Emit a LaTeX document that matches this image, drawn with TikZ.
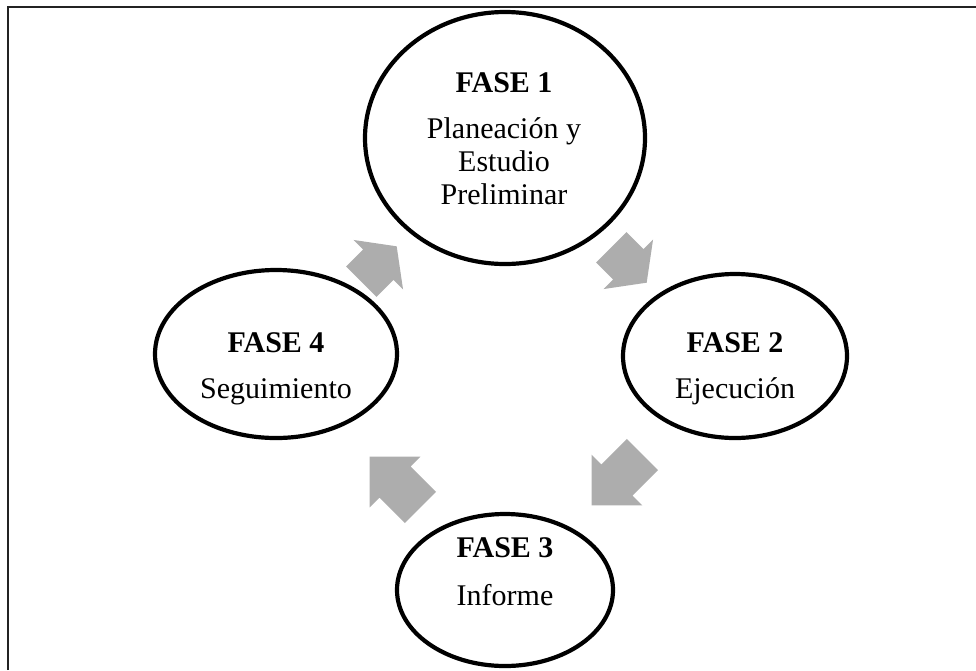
\documentclass[tikz,border=0pt]{standalone}
\usepackage{fontspec}
\setmainfont{Liberation Serif}
\usetikzlibrary{shapes.geometric}
\definecolor{arrowgray}{RGB}{173,173,173}
\definecolor{framegray}{RGB}{35,35,35}

% block arrow: centre x, centre y, angle, shaft length, head length, shaft half-width, head half-width
\newcommand\phasearrow[7]{%
  \fill[arrowgray, shift={(#1,#2)}, rotate=#3]
    ({-(#4+#5)/2}, -#6) -- ({-(#4+#5)/2+#4}, -#6) -- ({-(#4+#5)/2+#4}, -#7)
    -- ({(#4+#5)/2}, 0)
    -- ({-(#4+#5)/2+#4}, #7) -- ({-(#4+#5)/2+#4}, #6) -- ({-(#4+#5)/2}, #6) -- cycle;%
}

\tikzset{
  phase/.style={draw=black, line width=4.2pt, ellipse, inner sep=0pt},
  phasetext/.style={anchor=base, inner sep=0pt, font=\fontsize{30}{33}\selectfont},
  phasetitle/.style={anchor=base, inner sep=0pt, font=\fontsize{30}{33}\selectfont\bfseries},
}

\begin{document}
\begin{tikzpicture}[x=1pt, y=-1pt]
  \useasboundingbox (0,0) rectangle (976,670);
  \fill[white] (0,0) rectangle (976,670);

  % frame
  \draw[framegray, line width=2pt] (8,670) -- (8,7) -- (976,7);

  % phases
  \node[phase, minimum width=280pt, minimum height=252pt] (f1) at (505,138) {};
  \node[phase, minimum width=224pt, minimum height=164pt] (f2) at (735,356) {};
  \node[phase, minimum width=216pt, minimum height=152pt] (f3) at (505,590) {};
  \node[phase, minimum width=242pt, minimum height=168pt] (f4) at (276,354) {};

  % texts
  \node[phasetitle] (f1t) at (504,92) {FASE 1};
  \node[phasetext] (f1a) at (504,138) {Planeación y};
  \node[phasetext] (f1b) at (504,171) {Estudio};
  \node[phasetext] (f1c) at (504,204) {Preliminar};

  \node[phasetitle] (f2t) at (735,352) {FASE 2};
  \node[phasetext] (f2a) at (735,398) {Ejecución};

  \node[phasetitle] (f3t) at (505,557) {FASE 3};
  \node[phasetext] (f3a) at (505,605) {Informe};

  \node[phasetitle] (f4t) at (276,352) {FASE 4};
  \node[phasetext] (f4a) at (276,398) {Seguimiento};

  % cycle arrows
  \phasearrow{379}{264}{45}{24}{26}{21.5}{35}
  \phasearrow{629}{265}{-45}{24}{26}{21.5}{35}
  \phasearrow{617}{480}{-135}{36}{36}{22}{36}
  \phasearrow{395}{482}{135}{36}{36}{22}{36}
\end{tikzpicture}
\end{document}
